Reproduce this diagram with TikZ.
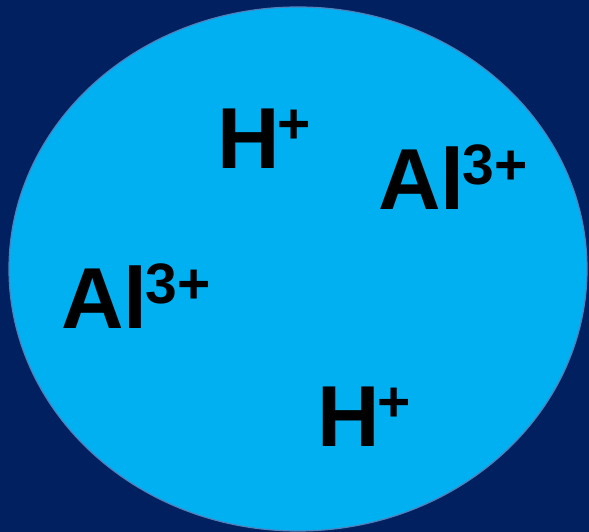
\documentclass[tikz,border=0pt]{standalone}
\usepackage{fontspec}
\setmainfont{Liberation Sans}
\usetikzlibrary{positioning}
\definecolor{NightBlue}{HTML}{002060}
\definecolor{SkyBlue}{HTML}{00B0F0}
\definecolor{RimBlue}{HTML}{4F81BD}
\newcommand{\ionlabel}[2]{#1\kern-2pt\raisebox{25pt}{\fontsize{57}{57}\selectfont #2}}
\tikzset{
  drop/.style={draw=RimBlue, line width=1.2pt, fill=SkyBlue},
  ion/.style={anchor=base west, inner sep=0pt, text=black, font=\fontsize{86.6}{90}\selectfont\bfseries}
}

\begin{document}
\begin{tikzpicture}[x=1pt, y=1pt]
\fill[NightBlue] (0,0) rectangle (589,532);
\useasboundingbox (0,0) rectangle (589,532);
\draw[drop] (298,263) ellipse [x radius=289, y radius=262];

\node[ion] (htop) at (217,363) {\ionlabel{H}{+}};
\node[ion] (alright) at (378,322) {\ionlabel{Al}{3+}};
\node[ion] (alleft) at (61,203) {\ionlabel{Al}{3+}};
\node[ion] (hbottom) at (317,85) {\ionlabel{H}{+}};
\end{tikzpicture}
\end{document}
